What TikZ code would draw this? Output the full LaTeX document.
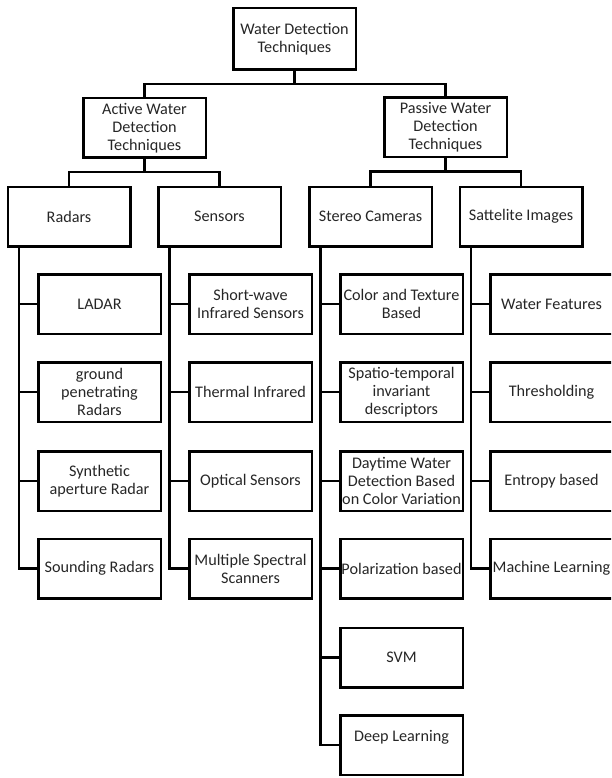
\documentclass[tikz,border=0pt]{standalone}
\usepackage{fontspec}
\setmainfont{Carlito}
\begin{document}
\begin{tikzpicture}[x=1pt,y=-1pt,
  box/.style={draw=black, line width=2.5pt, minimum width=122.5pt, minimum height=59.5pt,
    align=center, inner sep=1pt, text=black!85, font=\fontsize{16.2}{18}\selectfont},
  conn/.style={draw=black, line width=2.5pt}]
\useasboundingbox (0,0) rectangle (611,778);
\clip (0,0) rectangle (611,778);

% top levels
\node[box, minimum height=61.5pt] (root) at (294.5,39) {Water Detection\\Techniques};
\node[box] (active) at (144.5,128) {Active Water\\Detection\\Techniques};
\node[box] (passive) at (445.5,127.5) {Passive Water\\Detection\\Techniques};
\node[box] (radars) at (69,216.5) {Radars};
\node[box] (sensors) at (219.5,216.5) {Sensors};
\node[box] (stereo) at (370.5,216.5) {Stereo Cameras};
\node[box] (sat) at (521,216.5) {Sattelite Images};

% column A
\node[box] (a1) at (99.5,304) {LADAR};
\node[box] (a2) at (99.5,392) {ground\\penetrating\\Radars};
\node[box] (a3) at (99.5,481) {Synthetic\\aperture Radar};
\node[box] (a4) at (99.5,568.5) {Sounding Radars};
% column B
\node[box] (b1) at (250.5,304) {Short-wave\\Infrared Sensors};
\node[box] (b2) at (250.5,392) {Thermal Infrared};
\node[box] (b3) at (250.5,481) {Optical Sensors};
\node[box] (b4) at (250.5,568.5) {Multiple Spectral\\Scanners};
% column C
\node[box] (c1) at (401.5,304) {Color and Texture\\Based};
\node[box] (c2) at (401.5,392) {Spatio-temporal\\invariant\\descriptors};
\node[box] (c3) at (401.5,481) {Daytime Water\\Detection Based\\on Color Variation};
\node[box] (c4) at (401.5,568.5) {Polarization based};
\node[box] (c5) at (401.5,657.5) {SVM};
\node[box] (c6) at (401.5,745) {Deep Learning\\\mbox{}};
% column D
\node[box] (d1) at (551.5,304) {Water Features};
\node[box] (d2) at (551.5,392) {Thresholding};
\node[box] (d3) at (551.5,481) {Entropy based};
\node[box] (d4) at (551.5,568.5) {Machine Learning};

% connectors between levels
\path (root.south) ++(0,13) coordinate (j0);
\draw[conn] (root.south) -- (j0) -| (active.north);
\draw[conn] (j0) -| (passive.north);
\path (active.south) ++(0,13) coordinate (j1);
\draw[conn] (active.south) -- (j1) -| (radars.north);
\draw[conn] (j1) -| (sensors.north);
\path (passive.south) ++(0,13) coordinate (j2);
\draw[conn] (passive.south) -- (j2) -| (stereo.north);
\draw[conn] (j2) -| (sat.north);

% trunks
\path (radars.south west) ++(12.5,0) coordinate (tA);
\path (sensors.south west) ++(12.5,0) coordinate (tB);
\path (stereo.south west) ++(12.5,0) coordinate (tC);
\path (sat.south west) ++(12.5,0) coordinate (tD);
\foreach \n in {a1,a2,a3,a4} {\draw[conn] (tA) |- (\n.west);}
\foreach \n in {b1,b2,b3,b4} {\draw[conn] (tB) |- (\n.west);}
\foreach \n in {c1,c2,c3,c4,c5,c6} {\draw[conn] (tC) |- (\n.west);}
\foreach \n in {d1,d2,d3,d4} {\draw[conn] (tD) |- (\n.west);}
\end{tikzpicture}
\end{document}
